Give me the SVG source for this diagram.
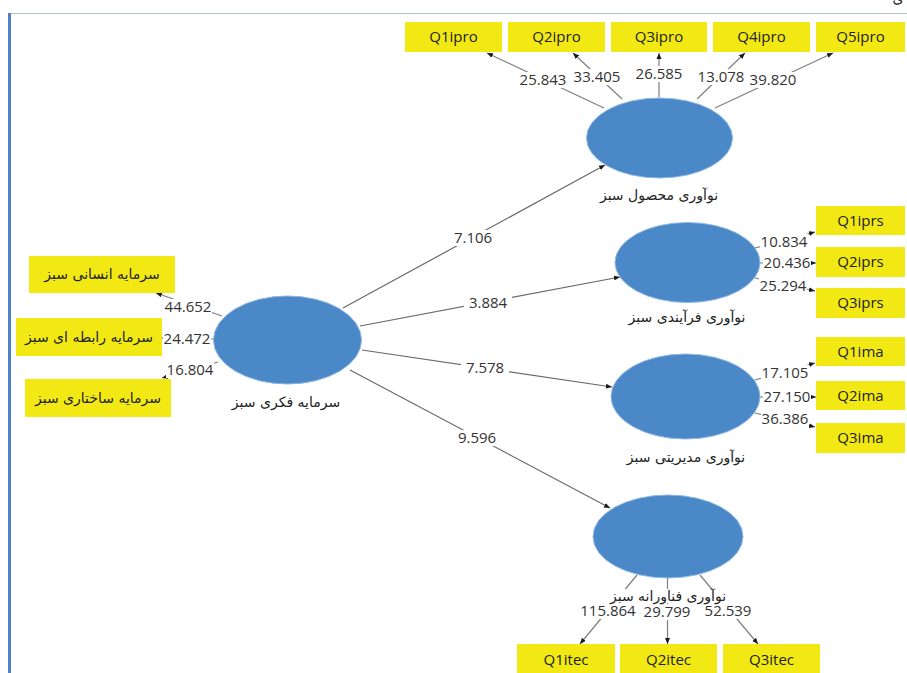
<svg xmlns="http://www.w3.org/2000/svg" width="907" height="673" viewBox="0 0 907 673">
<defs>
<marker id="ah" markerWidth="6" markerHeight="6" refX="6" refY="3" orient="auto" markerUnits="userSpaceOnUse">
<path d="M0,0.5 L6,3 L0,5.5 z" fill="#1a1a1a"/>
</marker>
<style>
.ind{stroke:#7f7f7f;stroke-width:1.2;fill:none;marker-end:url(#ah)}
.str{stroke:#6a6a6a;stroke-width:1.2;fill:none;marker-end:url(#ah)}
.lv{fill:#4a88c7;stroke:#8fb8e3;stroke-width:1}
.box{fill:#f2e914}
.bg{fill:#ffffff}
.num{font-family:"Open Sans","Noto Sans",sans-serif;font-size:15px;fill:#333333;text-anchor:middle}
.lab{font-family:"Open Sans","Noto Sans",sans-serif;font-size:15px;fill:#222222;text-anchor:middle}
.fa{font-family:"DejaVu Sans","Noto Sans",sans-serif;font-size:14px;fill:#222222;text-anchor:middle}
</style>
</defs>
<rect width="907" height="673" fill="#ffffff"/>
<line x1="9" y1="13.5" x2="907" y2="13.5" stroke="#b4bdd6" stroke-width="1.2"/>
<line x1="9.5" y1="13" x2="9.5" y2="673" stroke="#4f84c4" stroke-width="3"/>
<text x="898" y="3" class="fa" font-size="20">ی</text>

<g id="connectors">
<line class="ind" x1="604" y1="108" x2="487" y2="53"/>
<line class="ind" x1="622" y1="99" x2="573" y2="53"/>
<line class="ind" x1="659" y1="97" x2="659" y2="53"/>
<line class="ind" x1="697" y1="99" x2="745" y2="53"/>
<line class="ind" x1="715" y1="108" x2="833" y2="53"/>
<line class="ind" x1="222" y1="316" x2="156" y2="293"/>
<line class="ind" x1="213" y1="339" x2="162" y2="338"/>
<line class="ind" x1="218" y1="362" x2="162" y2="378"/>
<line class="ind" x1="755" y1="248" x2="815" y2="232"/>
<line class="ind" x1="760" y1="263" x2="816" y2="263"/>
<line class="ind" x1="755" y1="278" x2="815" y2="291"/>
<line class="ind" x1="755" y1="380" x2="815" y2="363"/>
<line class="ind" x1="760" y1="397" x2="816" y2="397"/>
<line class="ind" x1="755" y1="413" x2="815" y2="427"/>
<line class="ind" x1="637" y1="575" x2="580" y2="644"/>
<line class="ind" x1="667.5" y1="578" x2="667.5" y2="644"/>
<line class="ind" x1="700" y1="575" x2="758" y2="644"/>
<line class="str" x1="343" y1="308" x2="605" y2="165"/>
<line class="str" x1="360" y1="326" x2="620" y2="277"/>
<line class="str" x1="362" y1="350" x2="612" y2="387"/>
<line class="str" x1="350" y1="370" x2="610" y2="508"/>
<g id="labels">
<rect class="bg" x="519" y="72" width="48" height="16"/><text class="num" x="543" y="85">25.843</text>
<rect class="bg" x="573" y="69" width="48" height="16"/><text class="num" x="597" y="82">33.405</text>
<rect class="bg" x="635" y="66" width="48" height="16"/><text class="num" x="659" y="79">26.585</text>
<rect class="bg" x="697" y="69" width="48" height="16"/><text class="num" x="721" y="82">13.078</text>
<rect class="bg" x="749" y="72" width="48" height="16"/><text class="num" x="773" y="85">39.820</text>
<rect class="bg" x="164" y="299" width="48" height="16"/><text class="num" x="188" y="312">44.652</text>
<rect class="bg" x="163" y="331" width="48" height="16"/><text class="num" x="187" y="344">24.472</text>
<rect class="bg" x="166" y="362" width="48" height="16"/><text class="num" x="190" y="375">16.804</text>
<rect class="bg" x="760" y="234" width="48" height="16"/><text class="num" x="784" y="247">10.834</text>
<rect class="bg" x="763" y="255" width="48" height="16"/><text class="num" x="787" y="268">20.436</text>
<rect class="bg" x="759" y="278" width="48" height="16"/><text class="num" x="783" y="291">25.294</text>
<rect class="bg" x="761" y="365" width="48" height="16"/><text class="num" x="785" y="378">17.105</text>
<rect class="bg" x="763" y="389" width="48" height="16"/><text class="num" x="787" y="402">27.150</text>
<rect class="bg" x="761" y="411" width="48" height="16"/><text class="num" x="785" y="424">36.386</text>
<rect class="bg" x="449" y="230" width="48" height="16"/><text class="num" x="473" y="243">7.106</text>
<rect class="bg" x="464" y="295" width="48" height="16"/><text class="num" x="488" y="308">3.884</text>
<rect class="bg" x="461" y="360" width="48" height="16"/><text class="num" x="485" y="373">7.578</text>
<rect class="bg" x="453" y="430" width="48" height="16"/><text class="num" x="477" y="443">9.596</text>
<rect class="bg" x="580" y="603" width="56" height="16"/><text class="num" x="608" y="616">115.864</text>
<rect class="bg" x="643" y="604" width="48" height="16"/><text class="num" x="667" y="617">29.799</text>
<rect class="bg" x="704" y="603" width="48" height="16"/><text class="num" x="728" y="616">52.539</text>
</g>
</g>

<g id="node-intellectual">
<ellipse class="lv" cx="287.5" cy="340" rx="74" ry="44"/>
<text class="fa" x="286" y="407">سرمایه فکری سبز</text>
</g>
<g id="node-product">
<ellipse class="lv" cx="659.5" cy="138" rx="73" ry="40"/>
<text class="fa" x="659" y="200">نوآوری محصول سبز</text>
</g>
<g id="node-process">
<ellipse class="lv" cx="687.5" cy="262.5" rx="72.5" ry="40"/>
<text class="fa" x="687" y="322">نوآوری فرآیندی سبز</text>
</g>
<g id="node-management">
<ellipse class="lv" cx="685.5" cy="396.5" rx="74.5" ry="42.5"/>
<text class="fa" x="686" y="462">نوآوری مدیریتی سبز</text>
</g>
<g id="node-technology">
<ellipse class="lv" cx="668" cy="536.5" rx="75" ry="41.5"/>
<rect class="bg" x="610" y="589" width="118" height="14"/>
<text class="fa" x="668" y="601">نوآوری فناورانه سبز</text>
</g>

<g id="node-Q1ipro"><rect class="box" x="405" y="22" width="97" height="30"/><text class="lab" x="453.5" y="42">Q1ipro</text></g>
<g id="node-Q2ipro"><rect class="box" x="508" y="22" width="97" height="30"/><text class="lab" x="556.5" y="42">Q2ipro</text></g>
<g id="node-Q3ipro"><rect class="box" x="611" y="22" width="96" height="30"/><text class="lab" x="659" y="42">Q3ipro</text></g>
<g id="node-Q4ipro"><rect class="box" x="713" y="22" width="97" height="30"/><text class="lab" x="761.5" y="42">Q4ipro</text></g>
<g id="node-Q5ipro"><rect class="box" x="816" y="22" width="89" height="30"/><text class="lab" x="860.5" y="42">Q5ipro</text></g>

<g id="node-human"><rect class="box" x="29" y="256" width="146" height="37"/><text class="fa" x="102" y="279">سرمایه انسانی سبز</text></g>
<g id="node-relational"><rect class="box" x="16" y="318" width="146" height="38"/><text class="fa" x="89" y="342">سرمایه رابطه ای سبز</text></g>
<g id="node-structural"><rect class="box" x="25" y="379" width="146" height="38"/><text class="fa" x="98" y="403">سرمایه ساختاری سبز</text></g>

<g id="node-Q1iprs"><rect class="box" x="816" y="206" width="89" height="29"/><text class="lab" x="860.5" y="226">Q1iprs</text></g>
<g id="node-Q2iprs"><rect class="box" x="816" y="247" width="89" height="30"/><text class="lab" x="860.5" y="267">Q2iprs</text></g>
<g id="node-Q3iprs"><rect class="box" x="816" y="288" width="89" height="30"/><text class="lab" x="860.5" y="308">Q3iprs</text></g>
<g id="node-Q1ima"><rect class="box" x="816" y="337" width="89" height="29"/><text class="lab" x="860.5" y="357">Q1ima</text></g>
<g id="node-Q2ima"><rect class="box" x="816" y="381" width="89" height="29"/><text class="lab" x="860.5" y="401">Q2ima</text></g>
<g id="node-Q3ima"><rect class="box" x="816" y="423" width="89" height="30"/><text class="lab" x="860.5" y="443">Q3ima</text></g>

<g id="node-Q1itec"><rect class="box" x="517" y="644" width="98" height="29"/><text class="lab" x="566" y="665">Q1itec</text></g>
<g id="node-Q2itec"><rect class="box" x="620" y="644" width="97" height="29"/><text class="lab" x="668.5" y="665">Q2itec</text></g>
<g id="node-Q3itec"><rect class="box" x="723" y="644" width="97" height="29"/><text class="lab" x="771.5" y="665">Q3itec</text></g>
</svg>
